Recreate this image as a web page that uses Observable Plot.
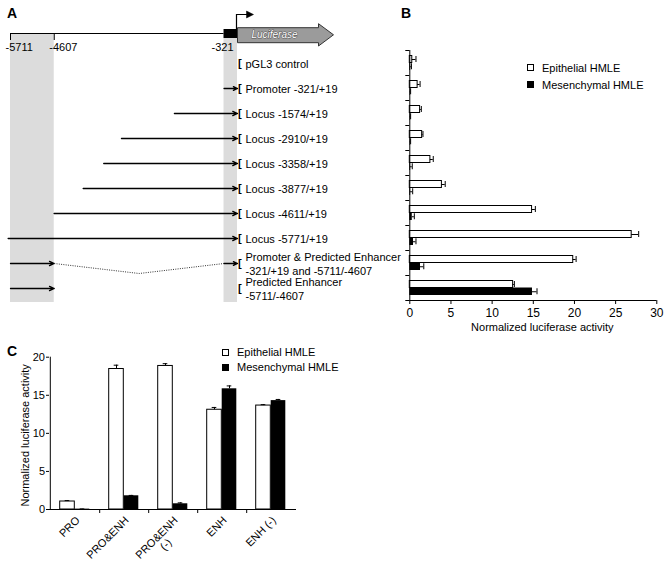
<!DOCTYPE html>
<html><head><meta charset="utf-8">
<script src="https://cdn.jsdelivr.net/npm/d3@7"></script>
<script src="https://cdn.jsdelivr.net/npm/@observablehq/plot@0.6"></script>
<style>
body{margin:0;background:#fff;font-family:"Liberation Sans",Arial,Helvetica,sans-serif;}
#fig{position:relative;width:671px;height:566px;overflow:hidden;background:#fff;}
.panel{position:absolute;font-weight:bold;font-size:14px;line-height:1;}
.lg{position:absolute;display:flex;align-items:center;height:12px;line-height:12px;font-size:11px;white-space:nowrap;}
.sw{box-sizing:border-box;width:7px;height:7px;border:1px solid #000;margin-right:8px;}
</style></head><body><div id="fig"></div>
<script>
// ---------- data ----------
const constructs = ["pGL3 control", "Promoter -321/+19", "Locus -1574/+19", "Locus -2910/+19",
  "Locus -3358/+19", "Locus -3877/+19", "Locus -4611/+19", "Locus -5771/+19",
  "Promoter & Predicted Enhancer\n-321/+19 and -5711/-4607", "Predicted Enhancer\n-5711/-4607"];
const fragmentStart = [null, -321, -1574, -2910, -3358, -3877, -4611, -5771, -321, null];
const fragmentEnd = 19;
const hasEnhancer = [false, false, false, false, false, false, false, false, true, true];
const enhancer = [-5711, -4607];
const promoter = [-321, 19];
const coordTicks = [-5711, -4607, -321];
const shaded = [enhancer, promoter];

const seriesNames = ["Epithelial HMLE", "Mesenchymal HMLE"];
const seriesFill = ["white", "black"];

// Panel B values (top to bottom, same order as constructs)
const epiB = [0.3, 0.95, 1.25, 1.5, 2.5, 3.9, 14.85, 26.95, 19.85, 12.55];
const epiBErr = [0.45, 0.3, 0.15, 0.1, 0.35, 0.4, 0.4, 0.85, 0.35, 0.15];
const mesB = [0.1, 0.05, 0.05, 0.05, 0.1, 0.1, 0.3, 0.45, 1.3, 14.9];
const mesBErr = [0.1, 0.05, 0.05, 0.05, 0.2, 0.25, 0.25, 0.3, 0.4, 0.55];

// Panel C values
const cats = ["PRO", "PRO&ENH", "PRO&ENH\n(-)", "ENH", "ENH (-)"];
const epiC = [1.05, 18.45, 18.85, 13.1, 13.65];
const epiCErr = [0.12, 0.5, 0.3, 0.3, 0.12];
const mesC = [0.05, 1.8, 0.75, 15.85, 14.3];
const mesCErr = [0.02, 0.05, 0.12, 0.38, 0.15];

const xTicksB = [0, 5, 10, 15, 20, 25, 30];
const yTicksC = [0, 5, 10, 15, 20];
const axisTitle = "Normalized luciferase activity";

// ---------- helpers ----------
const FONT = '"Liberation Sans", Arial, Helvetica, sans-serif';
const fig = document.getElementById("fig");
function place(node, left, top) {
  node.style.position = "absolute"; node.style.left = left + "px"; node.style.top = top + "px";
  fig.appendChild(node);
}
const baseStyle = (fs) => ({background: "transparent", overflow: "visible", fontFamily: FONT, fontSize: fs, color: "black"});

// V-shaped dotted join
const dip = (context) => {
  let pts = [];
  return {
    areaStart() {}, areaEnd() {},
    lineStart() { pts = []; },
    point(x, y) { pts.push([+x, +y]); },
    lineEnd() {
      const a = pts[0], b = pts[pts.length - 1];
      context.moveTo(a[0], a[1]);
      context.lineTo((a[0] + b[0]) / 2, (a[1] + b[1]) / 2 + 10);
      context.lineTo(b[0], b[1]);
    }
  };
};
const lucSymbol = {draw(c) {
  c.moveTo(0, -5.8); c.lineTo(81, -5.8); c.lineTo(81, -9.8); c.lineTo(96, 1.3);
  c.lineTo(81, 12.5); c.lineTo(81, 9.2); c.lineTo(0, 9.2); c.closePath();
}};
const bentSymbol = {draw(c) { c.moveTo(-1, -4.5); c.lineTo(-1, -19); c.lineTo(10, -19); }};
const headSymbol = {draw(c) { c.moveTo(16, -19); c.lineTo(9, -22.5); c.lineTo(9, -15.5); c.closePath(); }};

// ---------- Panel A: rows ----------
const rowsData = constructs.map((name, i) => ({name, start: fragmentStart[i], enh: hasEnhancer[i]}));
const promoterArrows = rowsData.filter(d => d.start != null);
const enhancerArrows = rowsData.filter(d => d.enh);
const joins = rowsData.filter(d => d.enh && d.start != null);
const aDims = {width: 400, height: 310, marginLeft: 10, marginRight: 163, marginTop: 33, marginBottom: 8};

const rowsPlot = Plot.plot({
  ...aDims, style: baseStyle("11px"),
  x: {domain: [enhancer[0], fragmentEnd], axis: null},
  y: {type: "point", domain: constructs, range: [61.5, 289], padding: 0, axis: null},
  marks: [
    Plot.rect(shaded, {x1: d => d[0], x2: d => d[1], fill: "#dcdcdc"}),
    Plot.arrow(promoterArrows, {x1: "start", x2: () => fragmentEnd, y1: "name", y2: "name",
      strokeWidth: 1.3, headLength: 6, headAngle: 50, stroke: "black"}),
    Plot.arrow(enhancerArrows, {x1: () => enhancer[0], x2: () => enhancer[1], y1: "name", y2: "name",
      strokeWidth: 1.3, headLength: 6, headAngle: 50, stroke: "black"}),
    Plot.link(joins, {x1: () => enhancer[1], x2: "start", y1: "name", y2: "name", curve: dip,
      stroke: "#333", strokeWidth: 1, strokeDasharray: "1,1.3"}),
    Plot.text(rowsData, {x: () => fragmentEnd, y: "name", text: () => "[", textAnchor: "start",
      dx: 0.5, fontWeight: "bold"}),
    Plot.text(rowsData, {x: () => fragmentEnd, y: "name", text: "name", textAnchor: "start",
      dx: 8, lineHeight: 1.27})
  ]
});
place(rowsPlot, 0, 0);

// ---------- Panel A: header (gene map) ----------
const headerPlot = Plot.plot({
  ...aDims, style: baseStyle("11px"),
  x: {domain: [enhancer[0], fragmentEnd], axis: null},
  y: {type: "point", domain: ["gene", "coord"], range: [32.5, 47], padding: 0, axis: null},
  marks: [
    Plot.ruleY([0], {y: () => "gene", x1: () => coordTicks[0], x2: () => coordTicks[2], stroke: "black"}),
    Plot.ruleX(coordTicks.slice(0, 2), {x: d => d, y1: () => "gene", y2: () => "coord", insetBottom: 7, stroke: "black"}),
    Plot.text(coordTicks.slice(0, 2), {x: d => d, y: () => "coord", text: d => String(d), textAnchor: "start", dx: -5}),
    Plot.text(coordTicks.slice(2), {x: d => d, y: () => "coord", text: d => String(d), dx: -1.5}),
    Plot.ruleY([0], {y: () => "gene", x1: () => promoter[0], x2: () => promoter[1], strokeWidth: 9, stroke: "black"}),
    Plot.dot([0], {x: () => promoter[1], y: () => "gene", symbol: lucSymbol, fill: "#9b9b9b", stroke: "#333", strokeWidth: 1}),
    Plot.text(["Luciferase"], {x: () => promoter[1], y: () => "gene", text: d => d, dx: 37, dy: 1.5,
      fill: "white", stroke: "#555", strokeWidth: 1, fontStyle: "italic", fontSize: 10}),
    Plot.dot([0], {x: () => promoter[1], y: () => "gene", symbol: bentSymbol, fill: "none", stroke: "black", strokeWidth: 1.2}),
    Plot.dot([0], {x: () => promoter[1], y: () => "gene", symbol: headSymbol, fill: "black", stroke: "black", strokeWidth: 0.5})
  ]
});
place(headerPlot, 0, 0);

// ---------- Panel B ----------
const tableB = constructs.map((c, i) => ({c, epi: epiB[i], epiErr: epiBErr[i], mes: mesB[i], mesErr: mesBErr[i]}));
const plotB = Plot.plot({
  width: 291, height: 340, marginLeft: 29.3, marginRight: 14.7, marginTop: 50, marginBottom: 40,
  style: baseStyle("12px"),
  x: {domain: [0, 30], ticks: xTicksB, tickSize: 4, tickPadding: 4, label: null},
  y: {type: "band", domain: constructs, padding: 0, axis: null},
  marks: [
    Plot.barX(tableB, {y: "c", x: "epi", fill: seriesFill[0], stroke: "black", strokeWidth: 1, insetTop: 5.5, insetBottom: 12.5}),
    Plot.barX(tableB, {y: "c", x: "mes", fill: seriesFill[1], insetTop: 12.5, insetBottom: 5}),
    Plot.ruleY(tableB, {y: "c", x1: "epi", x2: d => d.epi + d.epiErr, dy: -3.5, stroke: "black"}),
    Plot.tickX(tableB, {y: "c", x: d => d.epi + d.epiErr, insetTop: 6, insetBottom: 13, stroke: "black"}),
    Plot.ruleY(tableB, {y: "c", x1: "mes", x2: d => d.mes + d.mesErr, dy: 3.75, stroke: "black"}),
    Plot.tickX(tableB, {y: "c", x: d => d.mes + d.mesErr, insetTop: 13.25, insetBottom: 5.75, stroke: "black"}),
    Plot.ruleX([0], {stroke: "black"}),
    Plot.ruleY(constructs.slice(-1), {dy: 12.5, stroke: "black"}),
    Plot.ruleY(constructs, {x1: () => 0, x2: () => 0, dy: -12.5, insetLeft: -4, stroke: "black"}),
    Plot.ruleY(constructs.slice(-1), {x1: () => 0, x2: () => 0, dy: 12.5, insetLeft: -4, stroke: "black"}),
    Plot.text([axisTitle], {text: d => d, frameAnchor: "bottom", dy: 30, dx: 9, fontSize: 11})
  ]
});
place(plotB, 380, 0);

// ---------- Panel C ----------
const tableC = cats.map((c, i) => ({c, epi: epiC[i], epiErr: epiCErr[i], mes: mesC[i], mesErr: mesCErr[i]}));
const cW = 300, cML = 49, cMR = 4;
const bwC = (cW - cML - cMR) / cats.length;
const barC = 15;
const plotC = Plot.plot({
  width: cW, height: 236, marginLeft: cML, marginRight: cMR, marginTop: 26.7, marginBottom: 57,
  style: baseStyle("11px"),
  x: {type: "band", domain: cats, padding: 0, axis: null},
  y: {domain: [0, 20], ticks: yTicksC, tickSize: 3, tickPadding: 1.5, label: null},
  marks: [
    Plot.barY(tableC, {x: "c", y: "epi", fill: seriesFill[0], stroke: "black", insetLeft: bwC / 2 - barC, insetRight: bwC / 2}),
    Plot.barY(tableC, {x: "c", y: "mes", fill: seriesFill[1], insetLeft: bwC / 2, insetRight: bwC / 2 - barC}),
    Plot.ruleX(tableC, {x: "c", y1: "epi", y2: d => d.epi + d.epiErr, dx: -barC / 2, stroke: "black"}),
    Plot.tickY(tableC, {x: "c", y: d => d.epi + d.epiErr, insetLeft: bwC / 2 - barC / 2 - 2.5, insetRight: bwC / 2 + barC / 2 - 2.5, stroke: "black"}),
    Plot.ruleX(tableC, {x: "c", y1: "mes", y2: d => d.mes + d.mesErr, dx: barC / 2, stroke: "black"}),
    Plot.tickY(tableC, {x: "c", y: d => d.mes + d.mesErr, insetLeft: bwC / 2 + barC / 2 - 2.5, insetRight: bwC / 2 - barC / 2 - 2.5, stroke: "black"}),
    Plot.ruleY([0], {stroke: "black"}),
    Plot.ruleX(cats.slice(0, 1), {dx: -bwC / 2, stroke: "black"}),
    Plot.ruleX(cats.slice(0, -1), {y1: () => 0, y2: () => 0, dx: bwC / 2, insetBottom: -4, stroke: "black"}),
    Plot.text(cats, {x: d => d, y: () => 0, text: d => d.split("\n")[0], rotate: -45, textAnchor: "end", dx: 3, dy: 9}),
    Plot.text(cats.filter(d => d.includes("\n")), {x: d => d, y: () => 0, text: d => d.split("\n")[1], rotate: -45, dx: -7, dy: 35}),
    Plot.text([axisTitle], {text: d => d, frameAnchor: "left", textAnchor: "middle", rotate: -90, dx: -24, dy: 2})
  ]
});
place(plotC, 0, 330);

// ---------- legends & panel letters ----------
function legend(left, tops) {
  seriesNames.forEach((name, i) => {
    const row = document.createElement("div");
    row.className = "lg";
    const sw = document.createElement("div");
    sw.className = "sw"; sw.style.background = seriesFill[i];
    row.appendChild(sw);
    row.appendChild(document.createTextNode(name));
    place(row, left, tops[i]);
  });
}
legend(527, [61.5, 78.5]);
legend(222, [346, 361]);

[["A", 7, 5.5], ["B", 401, 5.5], ["C", 7, 343.5]].forEach(([t, l, tp]) => {
  const d = document.createElement("div"); d.className = "panel"; d.textContent = t; place(d, l, tp);
});
</script></body></html>
